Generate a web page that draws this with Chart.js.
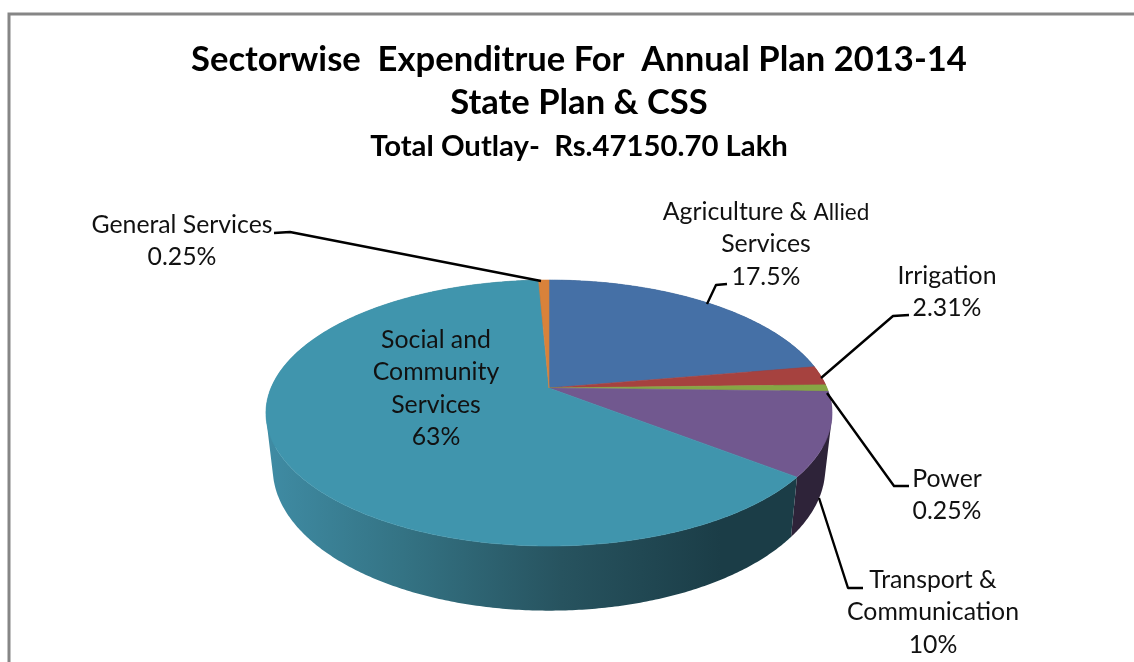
<!DOCTYPE html>
<html>
<head>
<meta charset="utf-8">
<title>Sectorwise Expenditure</title>
<script src="https://cdn.jsdelivr.net/npm/chart.js@4"></script>
<style>
  html, body { margin: 0; padding: 0; background: #fff; overflow: hidden; }
  #wrap { position: relative; width: 1134px; height: 662px; }
  canvas { display: block; }
</style>
</head>
<body>
<div id="wrap"><canvas id="chart" width="1134" height="662"></canvas></div>
<script>
  const categories = [
    "Agriculture & Allied Services",
    "Irrigation",
    "Power",
    "Transport & Communication",
    "Social and Community Services",
    "General Services",
  ];
  // Shares read off the slices as drawn. The printed labels below differ
  // where the picture does: Agriculture is drawn much larger than its 17.5%.
  const sliceShares = [22, 2.31, 0.8, 10, 63, 0.7];
  const printedShares = ["17.5%", "2.31%", "0.25%", "10%", "63%", "0.25%"];

  const titleLines = [
    "Sectorwise  Expenditrue For  Annual Plan 2013-14",
    "State Plan & CSS",
  ];
  const subtitleLine = "Total Outlay-  Rs.47150.70 Lakh";

  const topColors = ["#4570a6", "#a6423f", "#86a644", "#71588f", "#4095ad", "#d9823a"];
  const wallColors = ["#2c4768", "#692a28", "#55692b", "#2e2339", null, "#8a5225"];

  // The perspective of the tilted disc, found from the slice corners.
  const PIE = { x: 549, y: 388, r: 278, a: 128.3, b: -0.188 };
  const FLOOR = { sx: 0.976, sy: 1.07, dy: 53.6 };

  const FONT_STACK = 'Lato, "Open Sans", sans-serif';
  const LABEL_SIZE = 24.8;
  const SMALL_SIZE = 22.5;
  const LABEL_LINE = 32.4;

  // Text block centre and first baseline for every slice label
  const labelBlocks = [
    { cx: 766, y: 220, lines: [[["Agriculture & ", LABEL_SIZE], ["Allied", SMALL_SIZE]], [["Services", LABEL_SIZE]], [[printedShares[0], LABEL_SIZE]]] },
    { cx: 947, y: 284, lines: [[["Irrigation", LABEL_SIZE]], [[printedShares[1], LABEL_SIZE]]] },
    { cx: 947, y: 487, lines: [[["Power", LABEL_SIZE]], [[printedShares[2], LABEL_SIZE]]] },
    { cx: 933, y: 588, lines: [[["Transport &", LABEL_SIZE]], [["Communication", LABEL_SIZE]], [[printedShares[3], LABEL_SIZE]]] },
    { cx: 436, y: 348, lines: [[["Social and", LABEL_SIZE]], [["Community", LABEL_SIZE]], [["Services", LABEL_SIZE]], [[printedShares[4], LABEL_SIZE]]] },
    { cx: 182, y: 233, lines: [[["General Services", LABEL_SIZE]], [[printedShares[5], LABEL_SIZE]]] },
  ];

  const leaderLines = [
    [[727, 284], [716, 285], [707, 304]],
    [[909, 315], [893, 316], [821, 378]],
    [[909, 486], [894, 486], [827, 393]],
    [[863, 588], [848, 588], [819, 498]],
    [[274, 233], [290, 232], [541, 281]],
  ];

  // angle is Chart.js arc angle, radians from +x
  function project(angle, onFloor) {
    const t = angle + Math.PI / 2;
    const along = -Math.cos(t);
    const w = 1 + PIE.b * along;
    let dx = (PIE.r * Math.sin(t)) / w;
    let dy = (PIE.a * along) / w;
    if (onFloor) {
      dx *= FLOOR.sx;
      dy = dy * FLOOR.sy + FLOOR.dy;
    }
    return [PIE.x + dx, PIE.y + dy];
  }

  function traceRim(ctx, from, to) {
    const steps = Math.max(2, Math.ceil(Math.abs(to - from) / 0.01));
    for (let i = 0; i <= steps; i++) {
      const p = project(from + ((to - from) * i) / steps, false);
      ctx.lineTo(p[0], p[1]);
    }
  }

  function signedArea(pts) {
    let sum = 0;
    pts.forEach((p, n) => {
      const q = pts[(n + 1) % pts.length];
      sum += p[0] * q[1] - q[0] * p[1];
    });
    return sum;
  }

  // Wall of one slice as small quads in a single path, so the silhouette
  // keeps its straight sides and no seams show. All quads wind the same way,
  // otherwise they cancel out where the wall turns at the left and right edge.
  function fillWall(ctx, from, to, paint) {
    const steps = Math.max(2, Math.ceil(Math.abs(to - from) / 0.01));
    ctx.beginPath();
    for (let i = 0; i < steps; i++) {
      const a0 = from + ((to - from) * i) / steps;
      const a1 = from + ((to - from) * (i + 1)) / steps;
      const quad = [project(a0, false), project(a1, false), project(a1, true), project(a0, true)];
      if (signedArea(quad) < 0) quad.reverse();
      quad.forEach((p, n) => (n ? ctx.lineTo(p[0], p[1]) : ctx.moveTo(p[0], p[1])));
      ctx.closePath();
    }
    ctx.fillStyle = paint;
    ctx.fill();
  }

  const tiltedPie = {
    id: "tiltedPie",
    beforeDraw(chart) {
      const ctx = chart.ctx;
      ctx.save();
      ctx.strokeStyle = "#868686";
      ctx.lineWidth = 3;
      ctx.strokeRect(9, 14, 1300, 800);
      ctx.restore();
    },
    // The arcs are laid out by the pie controller, then drawn here in perspective
    beforeDatasetsDraw(chart) {
      const ctx = chart.ctx;
      const arcs = chart.getDatasetMeta(0).data;
      ctx.save();

      arcs.forEach((arc, i) => {
        let paint = wallColors[i];
        if (!paint) {
          paint = ctx.createLinearGradient(270, 0, 800, 0);
          paint.addColorStop(0, "#3f8ba3");
          paint.addColorStop(0.25, "#347384");
          paint.addColorStop(0.55, "#27535f");
          paint.addColorStop(0.85, "#1b3d47");
          paint.addColorStop(1, "#1b3d47");
        }
        fillWall(ctx, arc.startAngle, arc.endAngle, paint);
      });

      arcs.forEach((arc, i) => {
        ctx.beginPath();
        ctx.moveTo(PIE.x, PIE.y);
        traceRim(ctx, arc.startAngle, arc.endAngle);
        ctx.closePath();
        ctx.fillStyle = topColors[i];
        ctx.strokeStyle = topColors[i];
        ctx.lineWidth = 0.6;
        ctx.fill();
        ctx.stroke();
      });

      ctx.restore();
      return false;
    },
    afterDraw(chart) {
      const ctx = chart.ctx;
      ctx.save();

      ctx.strokeStyle = "#000";
      ctx.lineWidth = 2.4;
      ctx.lineJoin = "round";
      leaderLines.forEach((pts) => {
        ctx.beginPath();
        pts.forEach((p, i) => (i ? ctx.lineTo(p[0], p[1]) : ctx.moveTo(p[0], p[1])));
        ctx.stroke();
      });

      ctx.textBaseline = "alphabetic";
      ctx.textAlign = "left";
      ctx.fillStyle = "#111";
      labelBlocks.forEach((block) => {
        block.lines.forEach((runs, n) => {
          let width = 0;
          runs.forEach((run) => {
            ctx.font = run[1] + "px " + FONT_STACK;
            width += ctx.measureText(run[0]).width;
          });
          let x = block.cx - width / 2;
          runs.forEach((run) => {
            ctx.font = run[1] + "px " + FONT_STACK;
            ctx.fillText(run[0], x, block.y + n * LABEL_LINE);
            x += ctx.measureText(run[0]).width;
          });
        });
      });

      ctx.restore();
    },
  };

  new Chart(document.getElementById("chart"), {
    type: "pie",
    data: {
      labels: categories,
      datasets: [
        {
          data: sliceShares,
          backgroundColor: topColors,
          borderWidth: 0,
        },
      ],
    },
    options: {
      responsive: false,
      animation: false,
      // 24px left padding puts the titles on the frame centre, x = 579
      layout: { padding: { left: 24, top: 38 } },
      plugins: {
        legend: { display: false },
        tooltip: { enabled: false },
        title: {
          display: true,
          text: titleLines,
          color: "#000",
          font: { family: FONT_STACK, size: 34.6, weight: "bold", lineHeight: 1.243 },
          padding: { top: 0, bottom: 0 },
        },
        subtitle: {
          display: true,
          text: subtitleLine,
          color: "#000",
          font: { family: FONT_STACK, size: 29.3, weight: "bold" },
          padding: { top: 5, bottom: 0 },
        },
      },
    },
    plugins: [tiltedPie],
  });
</script>
</body>
</html>
